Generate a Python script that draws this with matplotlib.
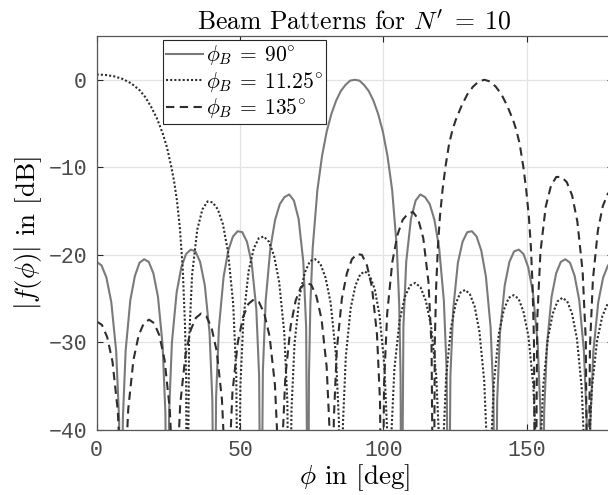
import matplotlib
matplotlib.use("Agg")
import matplotlib.pyplot as plt

plt.rcParams['mathtext.fontset'] = 'cm'
plt.rcParams['axes.unicode_minus'] = True

# ---------------- data (dB) ----------------
# phi_B = 90 deg (solid gray)
phi_90 = [0.0, 1.7, 3.4, 5.1, 6.8, 7.82, 8.5,
          9.14, 10.11, 11.72, 13.33, 14.94, 16.55, 18.16, 19.77, 21.38, 22.99, 23.96, 24.6,
          25.26, 26.24, 27.88, 29.52, 31.16, 32.8, 34.44, 36.08, 37.72, 39.36, 40.34, 41.0,
          41.65, 42.63, 44.26, 45.89, 47.52, 49.15, 50.78, 52.41, 54.04, 55.67, 56.65, 57.3,
          57.96, 58.94, 60.58, 62.22, 63.86, 65.5, 67.14, 68.78, 70.42, 72.06, 73.04, 73.7,
          74.03, 74.52, 75.33, 76.96, 78.59, 80.22, 81.85, 83.48, 85.11, 86.74, 88.37, 90.0,
          91.63, 93.26, 94.89, 96.52, 98.15, 99.78, 101.41, 103.04, 104.67, 105.49, 105.97, 106.3,
          106.96, 107.94, 109.58, 111.22, 112.86, 114.5, 116.14, 117.78, 119.42, 121.06, 122.04, 122.7,
          123.35, 124.33, 125.96, 127.59, 129.22, 130.85, 132.48, 134.11, 135.74, 137.37, 138.35, 139.0,
          139.66, 140.64, 142.28, 143.92, 145.56, 147.2, 148.84, 150.48, 152.12, 153.76, 154.74, 155.4,
          156.04, 157.01, 158.62, 160.23, 161.84, 163.45, 165.06, 166.67, 168.28, 169.89, 170.86, 171.5,
          172.18, 173.2, 174.9, 176.6, 178.3, 180.0]
level_90 = [-20.8, -21.2, -22.6, -25.4, -31.0, -38.8, -60,
            -38.7, -30.9, -25.2, -22.4, -20.9, -20.5, -20.8, -22.1, -24.8, -30.3, -38.0, -60,
            -37.9, -30.0, -24.3, -21.4, -19.9, -19.4, -19.6, -20.8, -23.5, -28.9, -36.6, -60,
            -36.2, -28.3, -22.5, -19.5, -17.9, -17.3, -17.4, -18.5, -20.9, -26.2, -33.8, -60,
            -33.2, -25.2, -19.2, -16.0, -14.2, -13.4, -13.1, -13.8, -15.9, -20.8, -28.2, -60,
            -33.8, -25.6, -19.2, -12.6, -8.7, -5.9, -3.9, -2.4, -1.3, -0.6, -0.1, 0.0,
            -0.1, -0.6, -1.3, -2.4, -3.9, -5.9, -8.7, -12.6, -19.2, -25.6, -33.8, -60,
            -28.2, -20.8, -15.9, -13.8, -13.1, -13.4, -14.2, -16.0, -19.2, -25.2, -33.2, -60,
            -33.8, -26.2, -20.9, -18.5, -17.4, -17.3, -17.9, -19.5, -22.5, -28.3, -36.2, -60,
            -36.6, -28.9, -23.5, -20.8, -19.6, -19.4, -19.9, -21.4, -24.3, -30.0, -37.9, -60,
            -38.0, -30.3, -24.8, -22.1, -20.8, -20.5, -20.9, -22.4, -25.2, -30.9, -38.7, -60,
            -38.8, -31.0, -25.4, -22.6, -21.2, -20.8]

# phi_B = 11.25 deg (dotted)
phi_1125 = [0, 3, 6, 9, 12, 15, 17, 19, 21, 23, 24.5, 26, 27, 28, 29, 30, 30.8, 31.2, 31.5,
            32.22, 33.29, 35.08, 36.87, 38.66, 40.45, 42.24, 44.03, 45.82, 47.61, 48.68, 49.4,
            50.11, 51.18, 52.96, 54.74, 56.52, 58.3, 60.08, 61.86, 63.64, 65.42, 66.49, 67.2,
            67.92, 69.0, 70.8, 72.6, 74.4, 76.2, 78.0, 79.8, 81.6, 83.4, 84.48, 85.2,
            85.87, 86.88, 88.56, 90.24, 91.92, 93.6, 95.28, 96.96, 98.64, 100.32, 101.33, 102.0,
            102.73, 103.82, 105.64, 107.46, 109.28, 111.1, 112.92, 114.74, 116.56, 118.38, 119.47, 120.2,
            120.86, 121.86, 123.52, 125.18, 126.84, 128.5, 130.16, 131.82, 133.48, 135.14, 136.14, 136.8,
            137.49, 138.52, 140.24, 141.96, 143.68, 145.4, 147.12, 148.84, 150.56, 152.28, 153.31, 154.0,
            154.67, 155.68, 157.36, 159.04, 160.72, 162.4, 164.08, 165.76, 167.44, 169.12, 170.13, 170.8,
            171.54, 172.64, 174.48, 176.32, 178.16, 180.0]
level_1125 = [0.6, 0.55, 0.4, 0.1, -0.4, -1.2, -2.0, -3.1, -4.4, -6.1, -7.7, -9.9, -11.6, -13.8, -16.9, -21.5, -28, -34, -60,
              -29.7, -22.2, -17.1, -14.8, -13.9, -14.0, -14.8, -16.5, -19.7, -25.6, -33.7, -60,
              -35.0, -27.3, -21.9, -19.3, -18.1, -17.9, -18.5, -20.1, -23.1, -28.9, -36.8, -60,
              -37.8, -30.1, -24.6, -22.0, -20.7, -20.5, -21.0, -22.6, -25.5, -31.3, -39.1, -60,
              -39.4, -31.6, -26.1, -23.5, -22.2, -21.9, -22.4, -23.9, -26.9, -32.6, -40.5, -60,
              -40.7, -33.0, -27.5, -24.8, -23.5, -23.2, -23.7, -25.2, -28.0, -33.7, -41.6, -60,
              -41.6, -33.9, -28.4, -25.6, -24.3, -24.0, -24.5, -25.9, -28.8, -34.4, -42.3, -60,
              -42.3, -34.6, -29.0, -26.3, -24.9, -24.6, -25.0, -26.5, -29.3, -35.0, -42.8, -60,
              -42.9, -35.1, -29.5, -26.7, -25.3, -24.9, -25.3, -26.7, -29.5, -35.1, -42.9, -60,
              -43.2, -35.4, -29.8, -27.0, -25.6, -25.2]

# phi_B = 135 deg (dashed)
phi_135 = [0.0, 1.84, 3.68, 5.52, 7.36, 8.46, 9.2,
           9.92, 11.01, 12.82, 14.63, 16.44, 18.25, 20.06, 21.87, 23.68, 25.49, 26.58, 27.3,
           28.03, 29.12, 30.94, 32.76, 34.58, 36.4, 38.22, 40.04, 41.86, 43.68, 44.77, 45.5,
           46.24, 47.35, 49.2, 51.05, 52.9, 54.75, 56.6, 58.45, 60.3, 62.15, 63.26, 64.0,
           64.72, 65.8, 67.6, 69.4, 71.2, 73.0, 74.8, 76.6, 78.4, 80.2, 81.28, 82.0,
           82.7, 83.75, 85.5, 87.25, 89.0, 90.75, 92.5, 94.25, 96.0, 97.75, 98.8, 99.5,
           100.22, 101.3, 103.1, 104.9, 106.7, 108.5, 110.3, 112.1, 113.9, 115.7, 116.78, 117.5,
           117.9, 118.4, 119.0, 119.7, 120.6, 121.6, 122.9, 124.1, 125.2, 127.2, 129.2, 131.2, 133.2, 135.2,
           137.2, 139.2, 141.2, 143.2, 145.2, 146.3, 147.5, 148.8, 149.8, 150.7, 151.4, 152.0, 152.5, 152.9,
           153.64, 154.74, 156.58, 158.42, 160.26, 162.1, 163.94, 165.78, 167.62, 169.46, 170.56, 171.3,
           172.0, 173.04, 174.78, 176.52, 178.26, 180.0]
level_135 = [-27.6, -28.0, -29.4, -32.2, -37.8, -45.6, -60,
             -45.4, -37.6, -32.0, -29.2, -27.8, -27.4, -27.8, -29.2, -32.0, -37.6, -45.4, -60,
             -45.0, -37.1, -31.5, -28.6, -27.2, -26.7, -27.0, -28.3, -31.0, -36.5, -44.2, -60,
             -43.6, -35.7, -30.0, -27.1, -25.6, -25.1, -25.4, -26.7, -29.3, -34.8, -42.6, -60,
             -41.8, -33.9, -28.2, -25.2, -23.7, -23.2, -23.4, -24.7, -27.3, -32.8, -40.5, -60,
             -38.7, -30.8, -25.0, -22.1, -20.5, -19.9, -20.0, -21.2, -23.7, -29.1, -36.7, -60,
             -34.7, -26.7, -20.8, -17.7, -16.0, -15.3, -15.1, -15.9, -18.1, -23.1, -30.5, -60,
             -30.0, -23.5, -19.0, -15.6, -12.6, -10.0, -7.3, -5.7, -4.6, -3.0, -1.7, -0.8, -0.2, 0.0,
             -0.2, -0.8, -1.7, -3.0, -4.6, -5.7, -7.3, -10.0, -12.6, -15.6, -19.0, -23.5, -30.0, -60,
             -27.3, -19.7, -14.5, -12.1, -11.1, -11.1, -11.7, -13.2, -16.2, -21.9, -29.8, -60,
             -30.6, -22.8, -17.2, -14.4, -13.0, -12.6]

labels = [r"$\phi_B \:=\: 90^{\circ}$", r"$\phi_B \:=\: 11.25^{\circ}$", r"$\phi_B \:=\: 135^{\circ}$"]
x_ticks = [0, 50, 100, 150]
y_ticks = [-40, -30, -20, -10, 0]

# ---------------- figure ----------------
fig = plt.figure(figsize=(6.08, 4.95), dpi=100)
ax = fig.add_axes([0.159, 0.1313, 0.849, 0.796])

ax.plot(phi_90, level_90, color='#7a7a7a', lw=1.5, ls='-', label=labels[0])
ax.plot(phi_1125, level_1125, color='#2e2e2e', lw=1.5, ls=(0, (1, 1)), label=labels[1])
ax.plot(phi_135, level_135, color='#2e2e2e', lw=1.5, ls=(0, (4, 2.6)), label=labels[2])

ax.set_xlim(0, 180)
ax.set_ylim(-40, 5)
ax.set_xticks(x_ticks)
ax.set_yticks(y_ticks)
ax.grid(True, color='#e3e3e3', lw=0.9)
ax.set_axisbelow(True)
for s in ax.spines.values():
    s.set_color('#555555')
    s.set_linewidth(0.9)
ax.tick_params(direction='in', top=True, right=True, length=4, width=0.8,
               color='#262626', labelcolor='#4a4a4a', labelsize=15.5, pad=7)
for lab in ax.get_xticklabels() + ax.get_yticklabels():
    lab.set_fontfamily('Liberation Mono')

ax.set_title(r"Beam Patterns for $N' \;=\; 10$", fontfamily='cmr10', fontsize=18.5, pad=5)
ax.set_xlabel(r"$\phi$ in [deg]", fontfamily='cmr10', fontsize=19.5, labelpad=1)
ax.set_ylabel(r"$|f(\phi)|$ in [dB]", fontfamily='cmr10', fontsize=19.5, labelpad=3)

leg = ax.legend(loc='upper left', bbox_to_anchor=(0.128, 0.99), fancybox=False,
                framealpha=1, edgecolor='#262626', prop={'family': 'cmr10', 'size': 15.5},
                handlelength=1.7, handletextpad=0.15, labelspacing=0.12, borderpad=0.15,
                borderaxespad=0)
leg.get_frame().set_linewidth(0.8)

fig.savefig("out.png", dpi=100)
